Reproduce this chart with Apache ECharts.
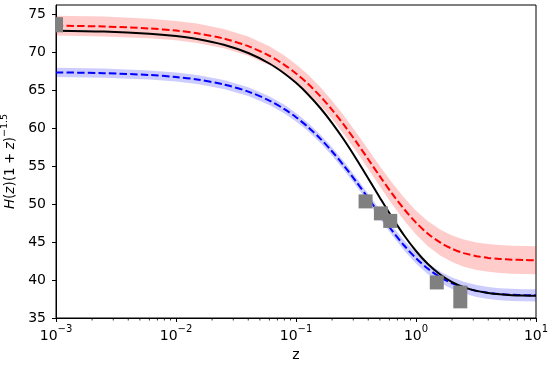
<!DOCTYPE html>
<html><head><meta charset="utf-8">
<script src="https://cdn.jsdelivr.net/npm/echarts@6/dist/echarts.min.js"></script>
<style>html,body{margin:0;padding:0;background:#fff}#c{width:550px;height:365px}</style>
</head><body><div id="c"></div>
<script>
// redshift grid (log-spaced)
const zGrid = [0.001,0.0025,0.006,0.01,0.015,0.025,0.04,0.06,0.08,0.1,0.125,0.16,0.2,0.25,0.32,0.4,0.5,0.63,0.8,1,1.25,1.6,2,2.5,3.2,4,5,6.3,8,10];
// best fit (black solid)
const blackFit = [72.82,72.70,72.42,72.11,71.73,70.97,69.88,68.50,67.19,65.95,64.49,62.61,60.66,58.49,55.87,53.37,50.84,48.28,45.83,43.82,42.14,40.69,39.73,39.06,38.57,38.29,38.12,38.01,37.95,37.92];
// red dashed model and its band
const redFit  = [73.48,73.37,73.11,72.83,72.47,71.78,70.78,69.52,68.32,67.19,65.87,64.16,62.40,60.45,58.11,55.89,53.65,51.41,49.29,47.56,46.13,44.91,44.11,43.54,43.14,42.91,42.77,42.68,42.63,42.60];
const redLow  = [72.18,72.07,71.82,71.55,71.19,70.51,69.52,68.28,67.09,65.97,64.66,62.96,61.19,59.23,56.87,54.61,52.31,50.00,47.80,45.99,44.49,43.20,42.36,41.75,41.33,41.08,40.93,40.84,40.78,40.75];
const redHigh = [74.78,74.67,74.40,74.11,73.75,73.05,72.04,70.76,69.55,68.41,67.08,65.37,63.61,61.67,59.35,57.17,54.99,52.82,50.78,49.13,47.77,46.62,45.86,45.33,44.95,44.74,44.61,44.52,44.48,44.45];
// blue dashed model and its band
const blueFit  = [67.33,67.23,66.99,66.72,66.39,65.74,64.80,63.62,62.49,61.43,60.19,58.58,56.92,55.08,52.87,50.77,48.66,46.53,44.51,42.87,41.51,40.34,39.57,39.00,38.56,38.30,38.14,38.05,38.00,37.98];
const blueLow  = [66.73,66.63,66.39,66.13,65.80,65.15,64.22,63.05,61.93,60.87,59.64,58.03,56.37,54.53,52.31,50.20,48.07,45.91,43.86,42.19,40.80,39.60,38.81,38.23,37.78,37.51,37.35,37.25,37.20,37.18];
const blueHigh = [67.93,67.83,67.59,67.31,66.98,66.33,65.38,64.19,63.06,61.99,60.74,59.13,57.47,55.63,53.43,51.34,49.25,47.15,45.16,43.55,42.22,41.08,40.33,39.77,39.34,39.09,38.93,38.85,38.80,38.78];
// observations (gray squares with error bars)
const obsZ   = [0.001,0.38,0.51,0.61,1.49,2.34];
const obsH   = [73.6,50.35,48.77,47.78,39.68,37.77];
const obsErr = [1.0,0.9,0.9,0.9,0.9,1.5];
// ticks
const yTicks = [35,40,45,50,55,60,65,70,75];
const xMinor = [0.002,0.003,0.004,0.005,0.006,0.007,0.008,0.009,0.02,0.03,0.04,0.05,0.06,0.07,0.08,0.09,0.2,0.3,0.4,0.5,0.6,0.7,0.8,0.9,2,3,4,5,6,7,8,9];

const FONT = 'DejaVu Sans';
const chart = echarts.init(document.getElementById('c'), null, {renderer:'canvas'});

function pairs(ys){ return zGrid.map((z,i)=>[z, ys[i]]); }
function band(lo, hi, color){
  return {
    type:'custom', clip:true, silent:true, z:1,
    data:[[zGrid[0], lo[0]]],
    renderItem:(params, api)=>{
      const pts=[];
      for(let i=0;i<zGrid.length;i++) pts.push(api.coord([zGrid[i], hi[i]]));
      for(let i=zGrid.length-1;i>=0;i--) pts.push(api.coord([zGrid[i], lo[i]]));
      return {type:'polygon', shape:{points:pts}, style:{fill:color}};
    }
  };
}
function line(ys, color, dashed, z){
  return {
    type:'line', data:pairs(ys), showSymbol:false, symbol:'none', smooth:0.3, z:z,
    silent:true, animation:false, clip:true,
    lineStyle:{color:color, width:2, type: dashed ? [7.4,3.2] : 'solid', cap:'butt'}
  };
}
const fmtX = v => {
  const e = Math.round(Math.log10(v));
  return '{n|10}{s|' + (e < 0 ? '\u2212' + (-e) : String(e)) + '}';
};

chart.setOption({
  animation:false,
  backgroundColor:'#fff',
  grid:{left:56, right:14, top:5, bottom:47, containLabel:false, outerBoundsMode:'none',
        show:true, borderColor:'#000', borderWidth:1, backgroundColor:'transparent'},
  xAxis:{
    type:'log', logBase:10, min:0.001, max:10,
    name:'z', nameLocation:'middle', nameGap:28,
    nameTextStyle:{fontFamily:FONT, fontSize:14, color:'#000'},
    axisLine:{show:true, lineStyle:{color:'#000', width:1}},
    axisTick:{show:true, length:4, lineStyle:{color:'#000', width:1}},
    minorTick:{show:false},
    splitLine:{show:false},
    axisLabel:{
      margin:6, formatter:fmtX, color:'#000',
      rich:{
        n:{fontFamily:FONT, fontSize:14, color:'#000', lineHeight:19, verticalAlign:'bottom'},
        s:{fontFamily:FONT, fontSize:10, color:'#000', lineHeight:10, verticalAlign:'top'}
      }
    }
  },
  yAxis:{
    type:'value', min:35, max:76.2,
    name:'{i|H}{n|(}{i|z}{n|)(1\u2005+\u2005}{i|z}{n|)}{s|\u22121.5}',
    nameLocation:'middle', nameRotate:90, nameGap:27,
    nameTextStyle:{
      rich:{
        i:{fontFamily:FONT, fontSize:13.5, fontStyle:'italic', color:'#000', lineHeight:18, verticalAlign:'bottom'},
        n:{fontFamily:FONT, fontSize:13.5, color:'#000', lineHeight:18, verticalAlign:'bottom'},
        s:{fontFamily:FONT, fontSize:9.5, color:'#000', lineHeight:9, verticalAlign:'top'}
      }
    },
    axisLine:{show:true, lineStyle:{color:'#000', width:1}},
    axisTick:{show:true, length:4, customValues:yTicks, lineStyle:{color:'#000', width:1}},
    axisLabel:{customValues:yTicks, margin:10, fontFamily:FONT, fontSize:14, color:'#000'},
    splitLine:{show:false}
  },
  series:[
    band(redLow, redHigh, 'rgba(255,0,0,0.2)'),
    band(blueLow, blueHigh, 'rgba(0,0,255,0.2)'),
    line(redFit, '#ff0000', true, 3),
    line(blueFit, '#0000ff', true, 3),
    line(blackFit, '#000000', false, 4),
    {
      type:'custom', clip:true, silent:true, z:6,
      data: obsZ.map((z,i)=>[z, obsH[i], obsErr[i]]),
      renderItem:(params, api)=>{
        const z = api.value(0), h = api.value(1), e = api.value(2);
        const c = api.coord([z, h]);
        const t = api.coord([z, h + e]);
        const b = api.coord([z, h - e]);
        const half = 7;
        const y0 = Math.min(t[1], c[1]-half), y1 = Math.max(b[1], c[1]+half);
        return {type:'rect', shape:{x:c[0]-half, y:y0, width:2*half, height:y1-y0}, style:{fill:'#808080'}};
      }
    },
    {
      type:'custom', clip:false, silent:true, z:7,
      data: xMinor.map(v=>[v, 35]),
      renderItem:(params, api)=>{
        const p = api.coord([api.value(0), api.value(1)]);
        return {type:'line', shape:{x1:p[0], y1:p[1], x2:p[0], y2:p[1]+2.5}, style:{stroke:'#000', lineWidth:0.8}};
      }
    }
  ]
});
</script>
</body></html>
